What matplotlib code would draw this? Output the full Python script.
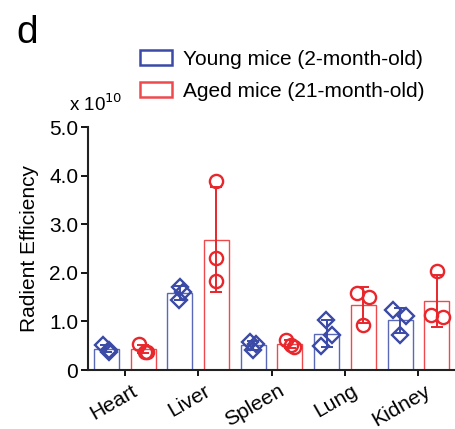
import numpy as np
import matplotlib.pyplot as plt
from matplotlib.patches import Patch
from matplotlib.transforms import ScaledTranslation

plt.rcParams['font.family'] = ['Liberation Sans', 'DejaVu Sans']

organs = ["Heart", "Liver", "Spleen", "Lung", "Kidney"]

# radiant efficiency, units of 1e10, three mice per organ
young = [
    [0.52, 0.42, 0.38],
    [1.71, 1.61, 1.44],
    [0.58, 0.53, 0.41],
    [1.03, 0.73, 0.49],
    [1.23, 1.11, 0.73],
]
aged = [
    [0.53, 0.38, 0.38],
    [3.90, 2.31, 1.83],
    [0.62, 0.51, 0.47],
    [1.59, 1.51, 0.92],
    [2.04, 1.13, 1.09],
]

BLUE = "#3a4aa6"
BLUE_BAR = "#5a68b8"
RED = "#e8262b"
RED_BAR = "#ee4a4e"

# horizontal scatter of the dots inside each bar
young_jit = [[-0.05, 0.03, 0.03], [0.0, 0.04, -0.01], [-0.04, 0.04, 0.0],
             [-0.01, 0.08, -0.08], [-0.09, 0.08, 0.0]]
aged_jit = [[-0.05, 0.02, 0.06], [0.0, 0.0, 0.0], [-0.05, 0.02, 0.05],
            [-0.08, 0.08, 0.0], [0.0, -0.08, 0.08]]

fig = plt.figure(figsize=(4.56, 4.29), dpi=100)
ax = fig.add_axes([0.193, 0.1375, 0.805, 0.566])

x = np.arange(len(organs))
off = 0.25
w = 0.34

for vals, jit, sgn, col, bcol, mk in [(young, young_jit, -1, BLUE, BLUE_BAR, 'D'),
                                     (aged, aged_jit, 1, RED, RED_BAR, 'o')]:
    arr = np.array(vals)
    means = arr.mean(axis=1)
    sds = arr.std(axis=1, ddof=1)
    pos = x + sgn * off
    ax.bar(pos, means, width=w, facecolor='none', edgecolor=bcol, linewidth=1.0, zorder=2)
    ax.errorbar(pos, means, yerr=sds, fmt='none', ecolor=col, elinewidth=1.4,
                capsize=4.5, capthick=1.4, zorder=3)
    for i in range(len(organs)):
        ax.plot(pos[i] + np.array(jit[i]), arr[i], linestyle='none', marker=mk,
                markersize=8.5 if mk == 'D' else 9.5, markerfacecolor='none',
                markeredgecolor=col, markeredgewidth=1.7, zorder=4)

ax.set_xlim(-0.5, 4.5)
ax.set_ylim(0, 5.0)
ax.set_yticks([0, 1, 2, 3, 4, 5])
ax.set_yticklabels(["0", "1.0", "2.0", "3.0", "4.0", "5.0"], fontsize=15)
ax.set_xticks(x)
ax.set_xticklabels(organs, rotation=30, ha='right', rotation_mode='anchor', fontsize=15)
ax.tick_params(axis='x', length=4, width=1.3, pad=4)
ax.tick_params(axis='y', length=5, width=1.3, pad=2)
# nudge the slanted names right so they sit like the original
shift = ScaledTranslation(6 / 100, 0, fig.dpi_scale_trans)
for lab in ax.get_xticklabels():
    lab.set_transform(lab.get_transform() + shift)
ax.spines['top'].set_visible(False)
ax.spines['right'].set_visible(False)
for s in ['left', 'bottom']:
    ax.spines[s].set_linewidth(1.5)
    ax.spines[s].set_color('#222222')
ax.set_ylabel("Radient Efficiency", fontsize=15, labelpad=7)

fig.text(0.152, 0.742, r"x 10$^{10}$", fontsize=13.5)
fig.text(0.035, 0.9, "d", fontsize=28)

handles = [Patch(facecolor='none', edgecolor=BLUE, linewidth=1.8),
           Patch(facecolor='none', edgecolor=RED_BAR, linewidth=1.8)]
fig.legend(handles, ["Young mice (2-month-old)", "Aged mice (21-month-old)"],
           loc='upper left', bbox_to_anchor=(0.302, 0.888), frameon=False,
           fontsize=15, handlelength=1.55, handleheight=0.75, handletextpad=0.5,
           labelspacing=0.62, borderpad=0.1, borderaxespad=0.0)

fig.savefig("out.png", dpi=100)
